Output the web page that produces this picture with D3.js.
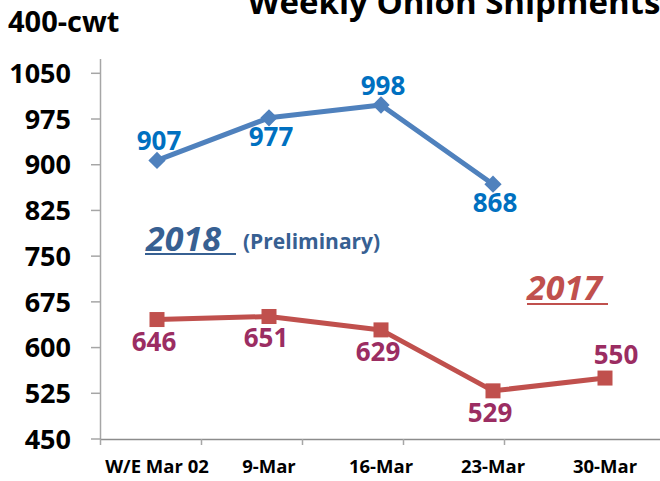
<!DOCTYPE html>
<html>
<head>
<meta charset="utf-8">
<script src="https://cdn.jsdelivr.net/npm/d3@7"></script>
<style>
  body { margin: 0; background: #fff; }
  text { font-family: "Open Sans", sans-serif; font-weight: 700; }
</style>
</head>
<body>
<div id="chart"></div>
<script>
// data
const weeks = ["W/E Mar 02", "9-Mar", "16-Mar", "23-Mar", "30-Mar"];
const ship2018 = [907, 977, 998, 868];
const ship2017 = [646, 651, 629, 529, 550];
const yTicks = [450, 525, 600, 675, 750, 825, 900, 975, 1050];

const width = 660, height = 481;

const svg = d3.select("#chart")
    .append("svg")
    .attr("width", width)
    .attr("height", height);

const x = d3.scalePoint()
    .domain(weeks)
    .range([157, 605]);

// tick marks on the category axis sit at these band edges
const xTick = d3.scaleBand()
    .domain(weeks)
    .range([100, 605]);

const y = d3.scaleLinear()
    .domain([450, 1050])
    .range([439, 73.3]);

// axes
svg.append("line")
    .attr("x1", 100.5).attr("x2", 100.5)
    .attr("y1", 59).attr("y2", 439)
    .attr("stroke", "#a6a6a6").attr("stroke-width", 1.5);

svg.append("line")
    .attr("x1", 100).attr("x2", 660)
    .attr("y1", 439.5).attr("y2", 439.5)
    .attr("stroke", "#8c8c8c").attr("stroke-width", 1.5);

svg.selectAll("line.ytick")
    .data(yTicks)
    .join("line")
    .classed("ytick", true)
    .attr("x1", 91).attr("x2", 100)
    .attr("y1", d => y(d)).attr("y2", d => y(d))
    .attr("stroke", "#a6a6a6").attr("stroke-width", 1.5);

svg.selectAll("text.ylab")
    .data(yTicks)
    .join("text")
    .classed("ylab", true)
    .attr("x", 71)
    .attr("y", d => y(d))
    .attr("dy", "0.36em")
    .attr("text-anchor", "end")
    .attr("font-size", 27)
    .attr("fill", "#000")
    .text(d => d);

svg.selectAll("line.xtick")
    .data(weeks)
    .join("line")
    .classed("xtick", true)
    .attr("x1", d => xTick(d) + 0.5).attr("x2", d => xTick(d) + 0.5)
    .attr("y1", 439).attr("y2", 445)
    .attr("stroke", "#a6a6a6").attr("stroke-width", 1.5);

svg.selectAll("text.xlab")
    .data(weeks)
    .join("text")
    .classed("xlab", true)
    .attr("x", d => x(d))
    .attr("y", 473)
    .attr("text-anchor", "middle")
    .attr("font-size", 18.5)
    .attr("fill", "#000")
    .text(d => d);

// titles
svg.append("text")
    .attr("x", 454)
    .attr("y", 14)
    .attr("text-anchor", "middle")
    .attr("font-size", 33)
    .attr("fill", "#000")
    .text("Weekly Onion Shipments");

svg.append("text")
    .attr("x", 8)
    .attr("y", 32)
    .attr("font-size", 29)
    .attr("fill", "#000")
    .text("400-cwt");

// series
const line = d3.line()
    .x((d, i) => x(weeks[i]))
    .y(d => y(d));

svg.append("path")
    .datum(ship2017)
    .attr("d", line)
    .attr("fill", "none")
    .attr("stroke", "#c0504d")
    .attr("stroke-width", 5)
    .attr("stroke-linejoin", "round");

svg.selectAll("rect.m2017")
    .data(ship2017)
    .join("rect")
    .classed("m2017", true)
    .attr("x", (d, i) => x(weeks[i]) - 7.5)
    .attr("y", d => y(d) - 7.5)
    .attr("width", 15)
    .attr("height", 15)
    .attr("fill", "#c0504d");

svg.append("path")
    .datum(ship2018)
    .attr("d", line)
    .attr("fill", "none")
    .attr("stroke", "#4f81bd")
    .attr("stroke-width", 5)
    .attr("stroke-linejoin", "round");

const diamond = d3.symbol().type(d3.symbolDiamond2).size(190);
svg.selectAll("path.m2018")
    .data(ship2018)
    .join("path")
    .classed("m2018", true)
    .attr("d", diamond)
    .attr("transform", (d, i) => `translate(${x(weeks[i])},${y(d)})`)
    .attr("fill", "#4f81bd");

// data labels: above or below the point, like the original
const side2018 = ["up", "down", "up", "down"];
const side2017 = ["down", "down", "down", "down", "up"];

svg.selectAll("text.v2018")
    .data(ship2018)
    .join("text")
    .classed("v2018", true)
    .attr("x", (d, i) => x(weeks[i]) + 2)
    .attr("y", (d, i) => y(d) + (side2018[i] === "up" ? -10 : 28))
    .attr("text-anchor", "middle")
    .attr("font-size", 26)
    .attr("fill", "#0070c0")
    .text(d => d);

svg.selectAll("text.v2017")
    .data(ship2017)
    .join("text")
    .classed("v2017", true)
    .attr("x", (d, i) => x(weeks[i]) + (side2017[i] === "up" ? 11 : -3))
    .attr("y", (d, i) => y(d) + (side2017[i] === "up" ? -14 : 31))
    .attr("text-anchor", "middle")
    .attr("font-size", 26)
    .attr("fill", "#9b2d62")
    .text(d => d);

// year annotations
svg.append("text")
    .attr("x", 146)
    .attr("y", 251)
    .attr("font-size", 34)
    .attr("font-style", "italic")
    .attr("fill", "#376092")
    .text("2018");
svg.append("line")
    .attr("x1", 145).attr("x2", 236)
    .attr("y1", 254).attr("y2", 254)
    .attr("stroke", "#376092").attr("stroke-width", 2);
svg.append("text")
    .attr("x", 243)
    .attr("y", 249)
    .attr("font-size", 21)
    .attr("fill", "#376092")
    .text("(Preliminary)");

svg.append("text")
    .attr("x", 527)
    .attr("y", 300)
    .attr("font-size", 34)
    .attr("font-style", "italic")
    .attr("fill", "#c0504d")
    .text("2017");
svg.append("line")
    .attr("x1", 527).attr("x2", 608)
    .attr("y1", 304).attr("y2", 304)
    .attr("stroke", "#c0504d").attr("stroke-width", 2);
</script>
</body>
</html>
